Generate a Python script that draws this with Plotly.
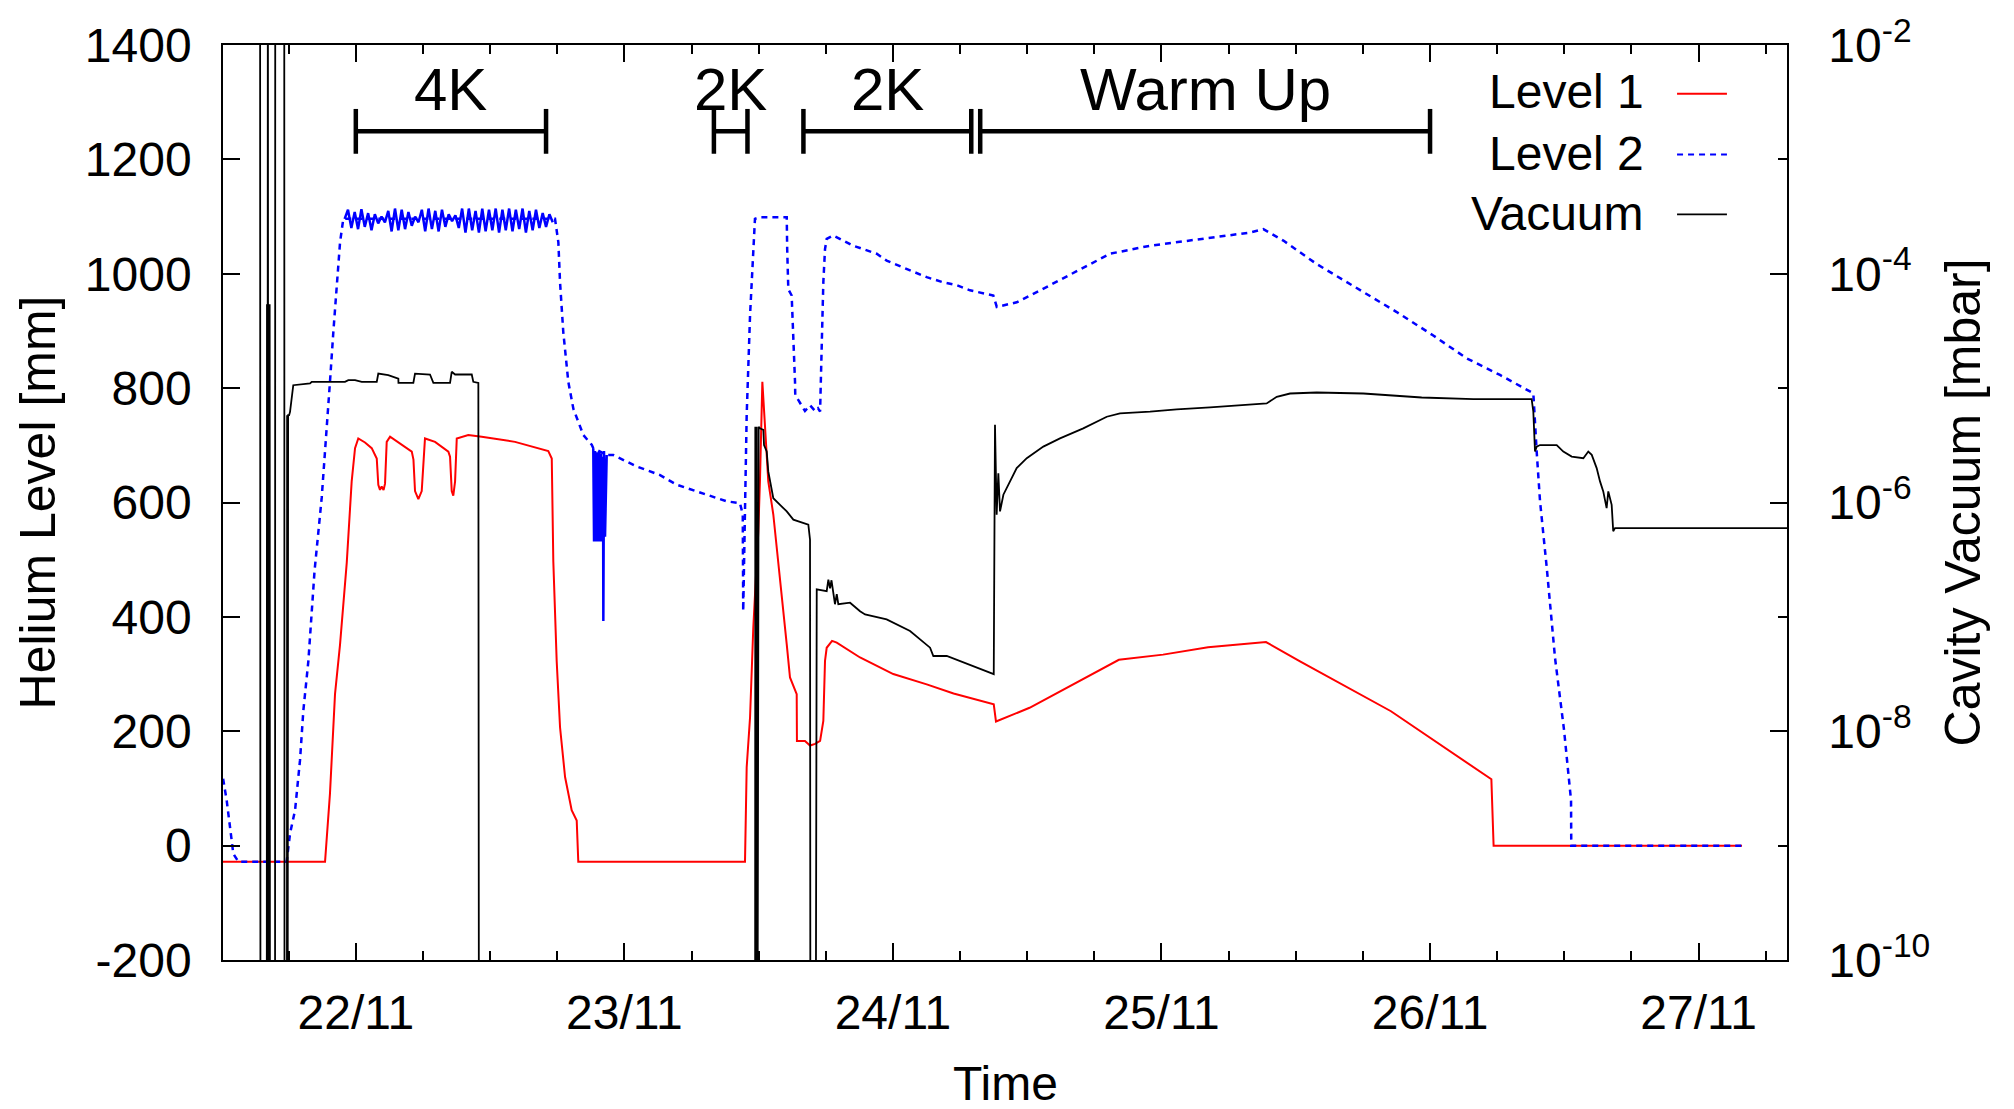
import pandas as pd
import plotly.graph_objects as go

# ---------------- data (time in hours after 22/11 00:00) ----------------
level1_h = [-11.87, -2.75, -2.31, -1.86, -1.41, -0.81, -0.37, -0.07, 0.22, 0.82, 1.42, 1.87, 2.01, 2.16,
            2.31, 2.48, 2.61, 2.76, 3.06, 4.10, 5.00, 5.15, 5.29, 5.59, 5.89, 6.18, 7.08, 8.27, 8.42, 8.57,
            8.71, 8.87, 9.02, 10.05, 11.25, 14.23, 15.72, 17.20, 17.51, 17.65, 17.95, 18.25, 18.70, 19.29,
            19.74, 19.88, 34.78, 34.93, 35.23, 35.38, 35.52, 35.97, 36.12, 36.33, 36.57, 36.86, 37.31, 37.76,
            38.06, 38.51, 38.80, 39.40, 39.42, 40.14, 40.59, 41.04, 41.49, 41.78, 41.93, 42.08, 42.56, 42.98,
            45.06, 48.03, 51.02, 53.42, 57.01, 57.21, 60.21, 66.15, 68.19, 72.14, 76.16, 81.34, 84.38, 92.51,
            101.48, 101.68, 123.88]
level1_mm = [-28, -28, 91, 265, 352, 495, 637, 695, 712, 705, 695, 677, 631, 622,
             628, 622, 633, 706, 715, 701, 689, 675, 620, 606, 620, 712, 706, 689, 680, 620,
             612, 637, 712, 718, 715, 706, 698, 690, 677, 497, 323, 207, 120, 62,
             44, -28, -28, 137, 224, 306, 381, 550, 640, 811, 723, 637, 579, 497,
             439, 352, 294, 265, 183, 183, 175, 178, 183, 218, 323, 346, 358, 355,
             329, 300, 282, 266, 247, 217, 241, 303, 325, 334, 347, 356, 322, 235,
             116, 0, 0]

level2_h = [-11.86, -11.54, -11.24, -10.95, -10.50, -6.18, -5.88, -5.43, -4.99, -4.69, -4.24, -3.80, -3.69,
            -3.05, -2.60, -2.31, -2.01, -1.71, -1.41, -1.12, 17.80, 18.10, 18.25, 18.54, 18.85, 18.99, 19.44,
            19.88, 20.33, 21.08, 21.22, 22.42, 23.01, 25.10, 27.19, 28.68, 31.06, 33.15, 34.33, 34.58, 34.62,
            34.78, 34.93, 35.23, 35.52, 35.67, 36.12, 38.51, 38.55, 38.65, 38.95, 39.10, 39.25, 39.27, 39.70,
            40.14, 40.59, 41.04, 41.30, 41.49, 41.63, 41.78, 41.93, 42.08, 42.67, 44.46, 46.55, 47.44, 49.53,
            51.02, 52.50, 53.70, 54.89, 56.97, 57.28, 59.06, 62.04, 65.02, 67.40, 70.98, 75.44, 79.91, 81.10,
            82.89, 85.87, 88.85, 93.02, 96.29, 99.28, 102.25, 105.23, 105.53, 105.83, 106.43, 107.17, 107.97,
            108.60, 108.62, 123.88]
level2_mm = [117, 79, 32, -14, -28, -28, 21, 62, 149, 236, 323, 439, 480,
             608, 724, 811, 898, 985, 1055, 1096, 1096, 1055, 985, 898, 840, 811, 764,
             741, 718, 701, 695, 683, 683, 663, 648, 631, 616, 602, 599, 579, 410,
             600, 753, 927, 1043, 1096, 1099, 1099, 1043, 973, 962, 898, 811, 788, 775,
             760, 770, 760, 765, 759, 869, 985, 1043, 1061, 1067, 1049, 1035, 1023, 1006,
             994, 985, 980, 971, 962, 942, 950, 980, 1011, 1035, 1049, 1061, 1072, 1078,
             1058, 1017, 982, 933, 892, 852, 823, 791, 689, 602, 486, 328, 203,
             79, 0, 0]

# noisy stretches of Level 2 (4K plateau and the fill spike on 23/11)
level2_noise_h = [-1.0, -0.7, -0.4, -0.1, 0.2, 0.5, 0.8, 1.1, 1.4, 1.7, 2.0, 2.3, 2.6, 2.9, 3.2, 3.5, 3.8,
                  4.1, 4.4, 4.7, 5.0, 5.3, 5.6, 5.9, 6.2, 6.5, 6.8, 7.1, 7.4, 7.7, 8.0, 8.3, 8.6, 8.9, 9.2,
                  9.5, 9.8, 10.1, 10.4, 10.7, 11.0, 11.3, 11.6, 11.9, 12.2, 12.5, 12.8, 13.1, 13.4, 13.7,
                  14.0, 14.3, 14.6, 14.9, 15.2, 15.5, 15.8, 16.1, 16.4, 16.7, 17.0, 17.3, 17.6, None,
                  21.22, 21.29, 21.38, 21.47, 21.56, 21.65, 21.74, 21.83, 21.91, 22.00, 22.09, 22.12,
                  22.18, 22.27, 22.42]
level2_noise_mm = [1096, 1112, 1080, 1108, 1078, 1113, 1082, 1106, 1076, 1104, 1088, 1100, 1090, 1110, 1074,
                   1114, 1076, 1112, 1078, 1108, 1084, 1100, 1090, 1112, 1074, 1114, 1078, 1110, 1074, 1112,
                   1082, 1104, 1092, 1102, 1080, 1114, 1072, 1114, 1076, 1110, 1072, 1114, 1074, 1112, 1076,
                   1114, 1072, 1112, 1076, 1114, 1074, 1112, 1078, 1114, 1072, 1110, 1076, 1112, 1080, 1106,
                   1082, 1104, 1090, None,
                   695, 532, 690, 532, 688, 532, 690, 532, 686, 532, 680, 393, 690, 540, 683]

# cavity vacuum in mbar (1e0 / 1e-12 = gauge off scale)
vacuum_h = [-8.56, -8.52, -7.96, -7.94, -7.90, -7.86, -7.82, -7.78, -7.74, -7.70, -7.67, -7.22, -7.20,
            -6.40, -6.37, -6.16, -6.14, -6.10, -6.05, -5.96, -5.88, -5.73, -5.59, -4.09, -3.94, -0.97,
            -0.67, -0.07, 0.53, 1.87, 2.01, 2.90, 3.80, 3.81, 5.14, 5.29, 6.63, 6.93, 8.42, 8.57, 8.87,
            10.36, 10.50, 10.95, 11.01,
            35.68, 35.70, 35.76, 35.82, 35.88, 35.94, 36.00, 36.12, 36.42, 36.48, 36.72, 36.86, 37.02,
            37.31, 37.91, 38.51, 39.10, 40.14, 40.44, 40.59, 40.63, 41.08,
            41.19, 42.08, 42.23, 42.38, 42.51, 42.82, 42.98, 43.12, 44.17, 45.06, 45.51, 47.44, 49.53,
            51.32, 51.61, 52.81, 54.00, 57.01, 57.12,
            57.27, 57.42, 57.57, 57.87, 58.46, 59.06, 59.96, 61.44, 62.93, 65.01, 67.11, 68.29, 70.98,
            73.36, 76.34, 79.62, 81.40, 82.30, 83.49, 85.87, 90.04, 95.25, 99.87, 105.08,
            105.23, 105.38, 105.53, 105.83, 107.32, 107.91, 108.66, 109.70, 110.14, 110.45, 110.89,
            111.19, 111.48, 111.78, 111.93, 112.23, 112.37, 112.53, 128.5]
vacuum_mbar = [1, 1e-12, 1e-12, 5.4e-5, 1e-12, 1, 1e-12, 5.4e-5, 1e-12, 5.4e-5, 1e-12, 1e-12, 1,
               1, 1e-12, 1e-12, 5.8e-6, 1e-12, 5.8e-6, 5.8e-6, 6.2e-6, 8.7e-6, 1.06e-5, 1.10e-5, 1.135e-5, 1.135e-5,
               1.175e-5, 1.175e-5, 1.135e-5, 1.135e-5, 1.34e-5, 1.30e-5, 1.21e-5, 1.11e-5, 1.11e-5, 1.34e-5, 1.315e-5, 1.11e-5, 1.11e-5, 1.39e-5, 1.315e-5,
               1.315e-5, 1.135e-5, 1.11e-5, 1e-12,
               1e-12, 4.6e-6, 1e-12, 4.6e-6, 1e-12, 4.6e-6, 4.6e-6, 4.45e-6, 4.31e-6, 3.18e-6, 2.79e-6, 1.87e-6, 1.53e-6,
               1.09e-6, 9.55e-7, 8.36e-7, 7.08e-7, 6.61e-7, 6.40e-7, 4.73e-7, 1e-12, 1e-12,
               1.74e-7, 1.68e-7, 2.12e-7, 1.78e-7, 2.09e-7, 1.29e-7, 1.58e-7, 1.29e-7, 1.33e-7, 1.12e-7, 1.05e-7, 9.51e-8, 7.52e-8,
               5.38e-8, 4.55e-8, 4.55e-8, 4.12e-8, 3.16e-8, 4.79e-6,
               7.82e-7, 1.80e-6, 8.36e-7, 1.17e-6, 1.53e-6, 2.0e-6, 2.44e-6, 3.08e-6, 3.64e-6, 4.45e-6, 5.62e-6, 6.01e-6, 6.22e-6,
               6.52e-6, 6.78e-6, 7.11e-6, 7.35e-6, 8.39e-6, 8.97e-6, 9.16e-6, 8.97e-6, 8.28e-6, 8.02e-6, 8.02e-6,
               6.22e-6, 2.79e-6, 3.08e-6, 3.18e-6, 3.18e-6, 2.79e-6, 2.52e-6, 2.44e-6, 2.79e-6, 2.61e-6, 2.0e-6,
               1.53e-6, 1.25e-6, 8.93e-7, 1.25e-6, 9.55e-7, 5.60e-7, 5.97e-7, 5.97e-7]

# operating phases
phase_labels = ["4K", "2K", "2K", "Warm Up"]
phase_start_h = [0.0, 32.0, 40.0, 55.8]
phase_end_h = [17.0, 35.0, 55.0, 96.0]
phase_bar_mm = 1249
phase_text_mm = 1323

x_range_h = [-11.87, 127.9]
y_ticks_left = [-200, 0, 200, 400, 600, 800, 1000, 1200, 1400]
y_ticktext_left = ["-200", "0", "200", "400", "600", "800", "1000", "1200", "1400"]
y_ticks_right = [1e-10, 1e-8, 1e-6, 1e-4, 1e-2]
y_ticktext_right = ["10<sup>-10</sup>", "10<sup>-8</sup>", "10<sup>-6</sup>", "10<sup>-4</sup>", "10<sup>-2</sup>"]
y_minor_right = [1e-9, 1e-7, 1e-5, 1e-3]

# ---------------- helpers ----------------
BASE = pd.Timestamp("2012-11-22 00:00")


def to_dt(hours):
    return [None if h is None else BASE + pd.Timedelta(hours=h) for h in hours]


FONT = "Liberation Sans, Arial, Helvetica, sans-serif"
FS = 48

fig = go.Figure()
fig.add_trace(go.Scatter(x=to_dt(level1_h), y=level1_mm, mode="lines", name="Level 1",
                         line=dict(color="#ff0000", width=2)))
fig.add_trace(go.Scatter(x=to_dt(level2_h), y=level2_mm, mode="lines", name="Level 2",
                         line=dict(color="#0000ff", width=2.5, dash="6px,5px")))
fig.add_trace(go.Scatter(x=to_dt(level2_noise_h), y=level2_noise_mm, mode="lines", name="Level 2 noise",
                         line=dict(color="#0000ff", width=2.5), connectgaps=False))
fig.add_trace(go.Scatter(x=to_dt(vacuum_h), y=vacuum_mbar, mode="lines", name="Vacuum", yaxis="y2",
                         line=dict(color="#000000", width=1.8)))

# phase bars
bx, by = [], []
for s, e in zip(phase_start_h, phase_end_h):
    bx += [s, e, None]
    by += [phase_bar_mm, phase_bar_mm, None]
fig.add_trace(go.Scatter(x=to_dt(bx), y=by, mode="lines+markers", connectgaps=False,
                         line=dict(color="black", width=4.5),
                         marker=dict(symbol="line-ns", size=32, color="black",
                                     line=dict(color="black", width=4.5))))

annotations = []
for lab, s, e in zip(phase_labels, phase_start_h, phase_end_h):
    annotations.append(dict(x=BASE + pd.Timedelta(hours=(s + e) / 2), y=phase_text_mm, xref="x", yref="y",
                            text=lab, showarrow=False, xanchor="center", yanchor="middle",
                            font=dict(size=60, family=FONT, color="black")))

# axis titles
annotations += [
    dict(x=-0.1183, y=0.5, xref="paper", yref="paper", text="Helium Level [mm]", textangle=-90,
         showarrow=False, xanchor="center", yanchor="middle", font=dict(size=50, family=FONT, color="black")),
    dict(x=1.1125, y=0.5, xref="paper", yref="paper", text="Cavity Vacuum [mbar]", textangle=-90,
         showarrow=False, xanchor="center", yanchor="middle", font=dict(size=50, family=FONT, color="black")),
    dict(x=0.5, y=-0.135, xref="paper", yref="paper", text="Time",
         showarrow=False, xanchor="center", yanchor="middle", font=dict(size=FS, family=FONT, color="black")),
]

# legend (text left of sample, gnuplot style)
leg_names = ["Level 1", "Level 2", "Vacuum"]
leg_colors = ["#ff0000", "#0000ff", "#000000"]
leg_dash = ["solid", "6px,5px", "solid"]
leg_width = [2, 2, 1.8]
leg_text_y = [0.9488, 0.8813, 0.8159]
leg_line_y = [0.9466, 0.8802, 0.8148]
shapes = []
for n, c, d, w, ty, ly in zip(leg_names, leg_colors, leg_dash, leg_width, leg_text_y, leg_line_y):
    annotations.append(dict(x=0.9099, y=ty, xref="paper", yref="paper", text=n, showarrow=False,
                            xanchor="right", yanchor="middle", font=dict(size=FS, family=FONT, color="black")))
    shapes.append(dict(type="line", xref="paper", yref="paper", x0=0.9297, x1=0.9616, y0=ly, y1=ly,
                       line=dict(color=c, width=w, dash=d)))

axis_common = dict(showgrid=False, zeroline=False, showline=True, linecolor="black", linewidth=1.5,
                   ticks="inside", tickcolor="black", tickwidth=1.5,
                   tickfont=dict(size=FS, family=FONT, color="black"))

fig.update_layout(
    width=2014, height=1109,
    margin=dict(l=223, r=227, t=42, b=149),
    paper_bgcolor="white", plot_bgcolor="white",
    showlegend=False,
    font=dict(family=FONT, size=FS, color="black"),
    xaxis=dict(type="date", range=to_dt(x_range_h), tickformat="%d/%m", dtick=86400000,
               tick0=BASE, ticklen=17, mirror="ticks", ticklabelstandoff=10,
               minor=dict(dtick=21600000, ticks="inside", ticklen=9, tickwidth=1.5, tickcolor="black"),
               **axis_common),
    yaxis=dict(range=[-200, 1400], tickmode="array", tickvals=y_ticks_left, ticktext=y_ticktext_left,
               ticklen=17, ticklabelstandoff=20, **axis_common),
    yaxis2=dict(type="log", range=[-10, -2], overlaying="y", side="right", tickmode="array",
                tickvals=y_ticks_right, ticktext=y_ticktext_right, ticklen=17, ticklabelstandoff=30,
                minor=dict(tickmode="array", tickvals=y_minor_right, ticks="inside", ticklen=9,
                           tickwidth=1.5, tickcolor="black"),
                **axis_common),
    annotations=annotations,
    shapes=shapes,
)

fig.write_html("out.html")
